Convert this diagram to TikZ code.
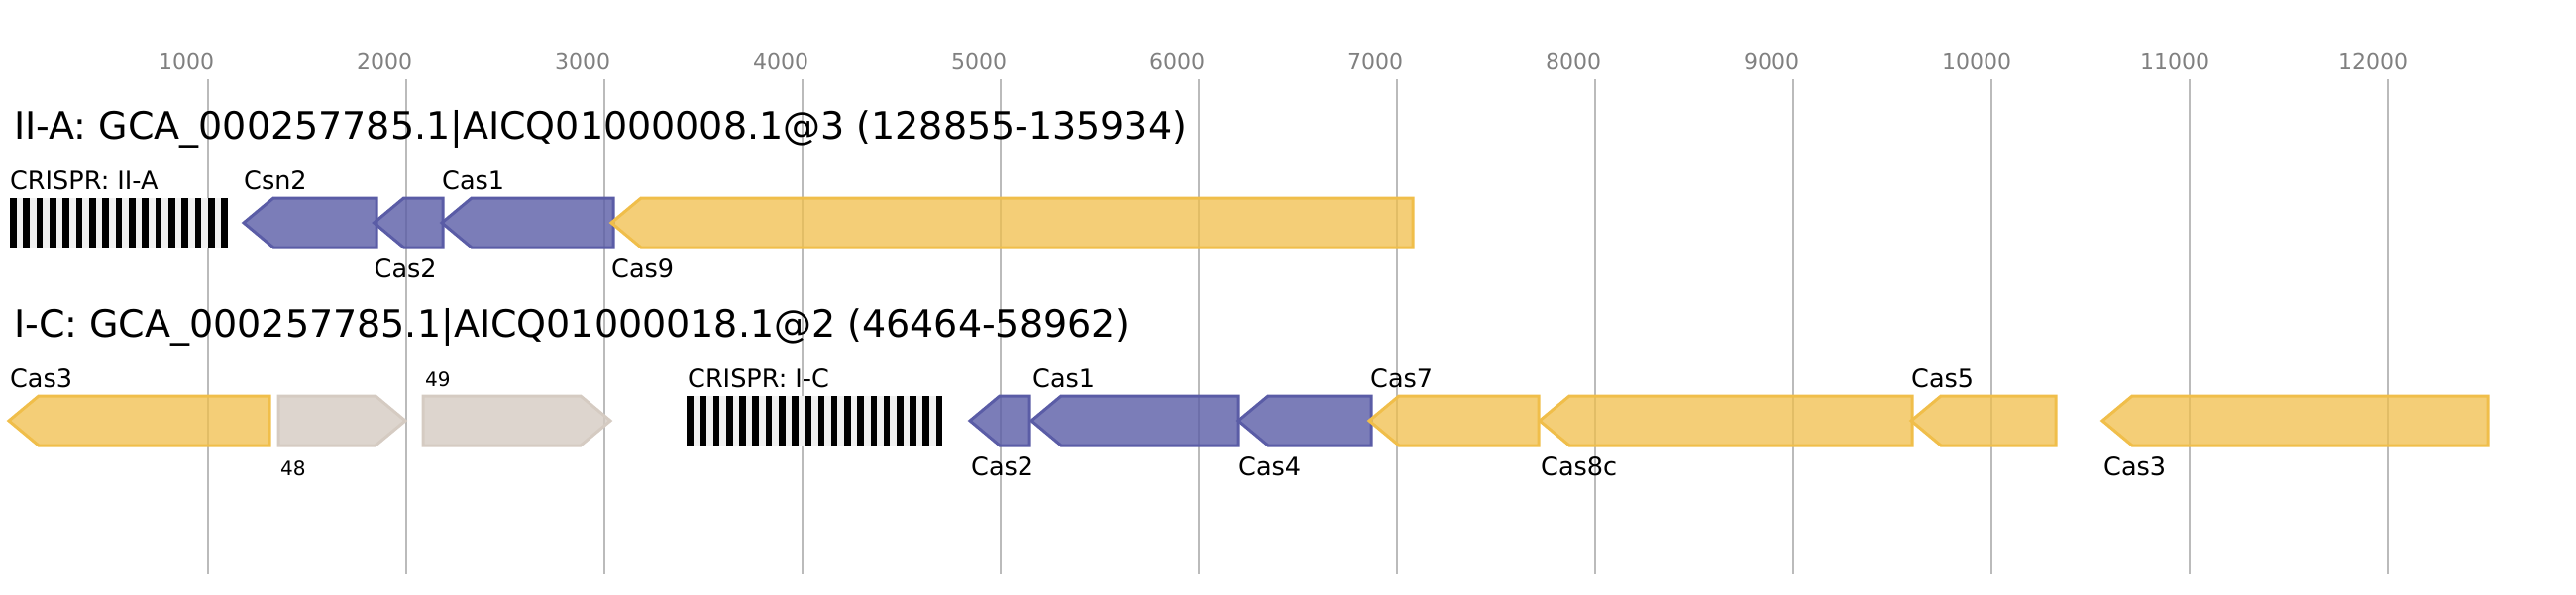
\documentclass[tikz,border=0pt]{standalone}
\usepackage{fontspec}
\setmainfont{DejaVu Sans}
\usetikzlibrary{calc}

\definecolor{caspurple}{HTML}{5A5CA6}
\definecolor{casyellow}{HTML}{F0BE4A}
\definecolor{casgrey}{HTML}{D5CBC2}
\definecolor{gridgrey}{HTML}{BBBBBB}
\definecolor{tickgrey}{HTML}{808080}
\definecolor{arraybg}{HTML}{F0F0F0}

\tikzset{
	gene/.style={line width=3pt, line join=miter},
	purplegene/.style={gene, draw=caspurple, fill=caspurple, fill opacity=0.8},
	yellowgene/.style={gene, draw=casyellow, fill=casyellow, fill opacity=0.75},
	greygene/.style={gene, draw=casgrey, fill=casgrey, fill opacity=0.8},
	gridline/.style={draw=gridgrey, line width=2pt},
	lbl/.style={inner sep=0pt, font=\fontsize{25.5}{30}\selectfont},
	smalllbl/.style={inner sep=0pt, font=\fontsize{20}{24}\selectfont},
	ticklbl/.style={inner sep=0pt, anchor=base west, text=tickgrey, font=\fontsize{22}{26}\selectfont},
	tracktitle/.style={inner sep=0pt, anchor=base west, font=\fontsize{38}{44}\selectfont}
}

% tip x, right x, centre y
\newcommand{\revgene}[4][]{\draw[#1] (#2,#4) -- (#2+30,#4-25) -- (#3,#4-25) -- (#3,#4+25) -- (#2+30,#4+25) -- cycle;}
% left x, tip x, centre y
\newcommand{\fwdgene}[4][]{\draw[#1] (#2,#4-25) -- (#3-30,#4-25) -- (#3,#4) -- (#3-30,#4+25) -- (#2,#4+25) -- cycle;}

\begin{document}
\begin{tikzpicture}[x=1pt, y=-1pt]
	\useasboundingbox (0,0) rectangle (2600,600);

	% scale
	\foreach \k in {1,...,12}{
		\draw[gridline] (10+200*\k,80) -- (10+200*\k,580);
		\node[ticklbl] (tick\k) at (200*\k-40,70.7) {\k000};
	}

	% II-A
	\node[tracktitle] (titleA) at (14,140.7) {II-A: GCA\_000257785.1|AICQ01000008.1@3 (128855-135934)};
	\fill[arraybg] (10,200) rectangle (228.5,250);
	\foreach \i in {0,...,16}
		\fill[black] (10+13.33*\i,200) rectangle ++(6.67,50);
	\revgene[purplegene]{246}{380}{225}
	\revgene[purplegene]{377.5}{447}{225}
	\revgene[purplegene]{446}{619}{225}
	\revgene[yellowgene]{617}{1426}{225}
	\node[lbl, anchor=base west] (crisprA) at (10,191) {CRISPR: II-A};
	\node[lbl, anchor=base west] (csn2A) at (246,191) {Csn2};
	\node[lbl, anchor=base west] (cas2A) at (377.5,280) {Cas2};
	\node[lbl, anchor=base west] (cas1A) at (446,191) {Cas1};
	\node[lbl, anchor=base west] (cas9A) at (617,280) {Cas9};

	% I-C
	\node[tracktitle] (titleC) at (14,340) {I-C: GCA\_000257785.1|AICQ01000018.1@2 (46464-58962)};
	\revgene[yellowgene]{9}{272}{425}
	\fwdgene[greygene]{281}{409}{425}
	\fwdgene[greygene]{427}{616}{425}
	\fill[arraybg] (693.3,400) rectangle (951,450);
	\foreach \i in {0,...,19}
		\fill[black] (693.3+13.23*\i,400) rectangle ++(6.6,50);
	\revgene[purplegene]{979}{1039}{425}
	\revgene[purplegene]{1041}{1250}{425}
	\revgene[purplegene]{1250}{1384}{425}
	\revgene[yellowgene]{1382}{1553}{425}
	\revgene[yellowgene]{1554}{1930}{425}
	\revgene[yellowgene]{1929}{2075}{425}
	\revgene[yellowgene]{2122}{2511}{425}
	\node[lbl, anchor=base west] (cas3C) at (10,391) {Cas3};
	\node[smalllbl, anchor=base west] (orf48) at (283,480) {48};
	\node[smalllbl, anchor=base west] (orf49) at (429,390) {49};
	\node[lbl, anchor=base west] (crisprC) at (694,391) {CRISPR: I-C};
	\node[lbl, anchor=base west] (cas2C) at (980,480) {Cas2};
	\node[lbl, anchor=base west] (cas1C) at (1042,391) {Cas1};
	\node[lbl, anchor=base west] (cas4C) at (1250,480) {Cas4};
	\node[lbl, anchor=base west] (cas7C) at (1383,391) {Cas7};
	\node[lbl, anchor=base west] (cas8cC) at (1555,480) {Cas8c};
	\node[lbl, anchor=base west] (cas5C) at (1929,391) {Cas5};
	\node[lbl, anchor=base west] (cas3C2) at (2123,480) {Cas3};
\end{tikzpicture}
\end{document}
